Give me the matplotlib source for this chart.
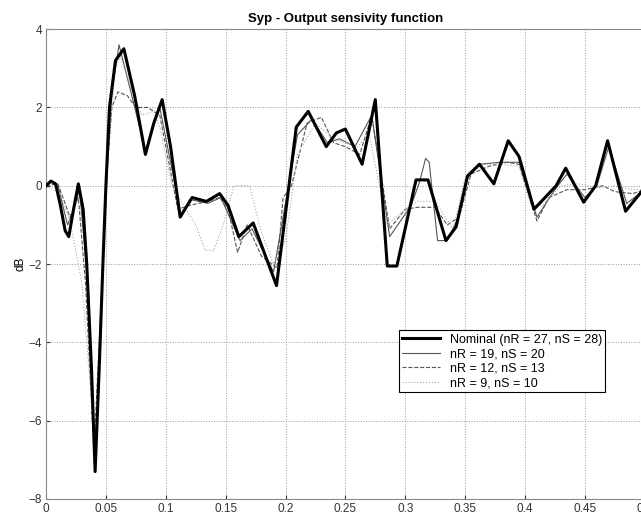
import matplotlib
matplotlib.use("Agg")
import matplotlib.pyplot as plt

plt.rcParams['font.family'] = ['Liberation Sans', 'DejaVu Sans']

# Nominal controller (nR = 27, nS = 28)
x_nom = [0, 0.004, 0.008, 0.012, 0.016, 0.019, 0.023, 0.027, 0.031, 0.034, 0.038, 0.041,
         0.0445, 0.0475, 0.050, 0.053, 0.058, 0.065, 0.074, 0.083, 0.090, 0.097, 0.104,
         0.112, 0.122, 0.134, 0.145, 0.152, 0.161, 0.173, 0.1925, 0.209, 0.219, 0.234,
         0.2425, 0.25, 0.264, 0.275, 0.285, 0.293, 0.309, 0.319, 0.334, 0.3425, 0.352,
         0.362, 0.374, 0.386, 0.395, 0.4075, 0.426, 0.434, 0.449, 0.459, 0.469, 0.484, 0.5]
y_nom = [0, 0.12, 0.05, -0.5, -1.15, -1.3, -0.6, 0.05, -0.6, -2.0, -4.7, -7.3,
         -4.6, -2.0, 0.0, 2.0, 3.2, 3.5, 2.3, 0.8, 1.6, 2.2, 1.0,
         -0.8, -0.3, -0.4, -0.2, -0.5, -1.3, -0.95, -2.55, 1.5, 1.9, 1.0,
         1.35, 1.45, 0.55, 2.2, -2.05, -2.05, 0.15, 0.15, -1.4, -1.05, 0.25,
         0.55, 0.05, 1.15, 0.75, -0.6, 0.0, 0.45, -0.42, 0.0, 1.15, -0.65, -0.05]

# nR = 19, nS = 20
x_19 = [0, 0.005, 0.01, 0.018, 0.022, 0.028, 0.034, 0.041, 0.047, 0.051, 0.055, 0.061,
        0.07, 0.083, 0.095, 0.113, 0.12, 0.135, 0.146, 0.162, 0.172, 0.19, 0.21, 0.222,
        0.235, 0.245, 0.258, 0.272, 0.287, 0.305, 0.312, 0.317, 0.32, 0.327, 0.335,
        0.343, 0.352, 0.362, 0.38, 0.395, 0.41, 0.425, 0.435, 0.45, 0.46, 0.47, 0.485, 0.5]
y_19 = [0, 0.1, 0.0, -1.0, -0.7, -0.1, -2.2, -7.2, -2.3, 0.3, 2.4, 3.6,
        2.5, 0.9, 2.0, -0.8, -0.35, -0.45, -0.3, -1.4, -1.1, -2.2, 1.3, 1.7,
        1.1, 1.2, 1.0, 1.8, -1.3, -0.5, 0.1, 0.7, 0.6, -1.4, -1.4,
        -0.9, 0.2, 0.55, 0.6, 0.6, -0.8, -0.1, 0.3, -0.3, 0.0, 1.0, -0.45, -0.1]

# nR = 12, nS = 13
x_12 = [0, 0.01, 0.02, 0.027, 0.033, 0.04, 0.046, 0.05, 0.055, 0.06, 0.068, 0.075,
        0.085, 0.095, 0.1, 0.11, 0.12, 0.135, 0.145, 0.152, 0.16, 0.168, 0.18, 0.193,
        0.198, 0.205, 0.218, 0.23, 0.24, 0.25, 0.262, 0.272, 0.287, 0.3, 0.31, 0.325,
        0.335, 0.345, 0.355, 0.37, 0.385, 0.395, 0.41, 0.42, 0.435, 0.45, 0.465, 0.475,
        0.49, 0.5]
y_12 = [0, 0.05, -0.8, -0.3, -2.5, -6.8, -3.0, 0.0, 2.0, 2.4, 2.3, 2.0,
        2.0, 1.8, 1.0, -0.6, -0.5, -0.4, -0.3, -0.6, -1.7, -1.0, -1.8, -2.1,
        -0.3, 0.0, 1.6, 1.75, 1.1, 1.0, 0.8, 1.8, -1.1, -0.6, -0.55, -0.55,
        -1.0, -0.8, 0.3, 0.5, 0.6, 0.55, -0.9, -0.3, -0.1, -0.1, 0.0, -0.15,
        -0.2, -0.1]

# nR = 9, nS = 10
x_9 = [0, 0.012, 0.02, 0.03, 0.038, 0.042, 0.047, 0.052, 0.058, 0.062, 0.07, 0.08,
       0.09, 0.095, 0.105, 0.115, 0.125, 0.133, 0.14, 0.148, 0.157, 0.17, 0.18, 0.19,
       0.2, 0.21, 0.225, 0.24, 0.25, 0.26, 0.27, 0.285, 0.3, 0.31, 0.325, 0.34, 0.35,
       0.365, 0.38, 0.395, 0.405, 0.415, 0.43, 0.445, 0.46, 0.475, 0.49, 0.5]
y_9 = [0, -0.2, -0.9, -2.5, -5.5, -6.5, -2.5, 1.0, 3.0, 3.3, 2.6, 1.8,
       1.9, 1.5, 0.0, -0.5, -1.0, -1.65, -1.65, -1.0, 0.0, 0.0, -1.2, -2.0,
       -1.4, 0.8, 1.6, 1.2, 1.1, 1.0, 1.3, -1.0, -0.6, -0.4, -0.4, -1.1, 0.2,
       0.55, 0.55, 0.5, -0.5, -0.5, 0.0, 0.05, -0.05, 0.0, -0.1, -0.1]

fig = plt.figure(figsize=(6.41, 5.18), dpi=100)
ax = fig.add_axes([0.0718, 0.0367, 0.934, 0.907])

ax.plot(x_nom, y_nom, color='black', lw=2.2, label='Nominal (nR = 27, nS = 28)', zorder=5)
ax.plot(x_19, y_19, color='#555555', lw=0.8, label='nR = 19, nS = 20')
ax.plot(x_12, y_12, color='#555555', lw=0.8, ls='--', label='nR = 12, nS = 13')
ax.plot(x_9, y_9, color='#aaaaaa', lw=0.8, ls=':', label='nR = 9, nS = 10')

ax.set_xlim(0, 0.5)
ax.set_ylim(-8, 4)
ax.set_xticks([0, 0.05, 0.1, 0.15, 0.2, 0.25, 0.3, 0.35, 0.4, 0.45, 0.5])
ax.set_xticklabels(['0', '0.05', '0.1', '0.15', '0.2', '0.25', '0.3', '0.35', '0.4', '0.45', '0.5'])
ax.set_yticks([-8, -6, -4, -2, 0, 2, 4])
ax.tick_params(direction='in', labelsize=8.5, colors='#333333', length=3, pad=3)
ax.grid(True, ls=':', color='#999999', lw=0.7)
for s in ax.spines.values():
    s.set_color('#888888')

ax.set_title('Syp - Output sensivity function', fontsize=9.5, fontweight='bold', pad=5)
ax.set_ylabel('dB', fontsize=8.5, labelpad=1)

leg = ax.legend(loc='upper left', bbox_to_anchor=(0.579, 0.372), fontsize=9,
                fancybox=False, framealpha=1, edgecolor='black', borderpad=0.25,
                labelspacing=0.2, handlelength=3)
leg.get_frame().set_linewidth(0.8)

fig.savefig('out.png', dpi=100)
